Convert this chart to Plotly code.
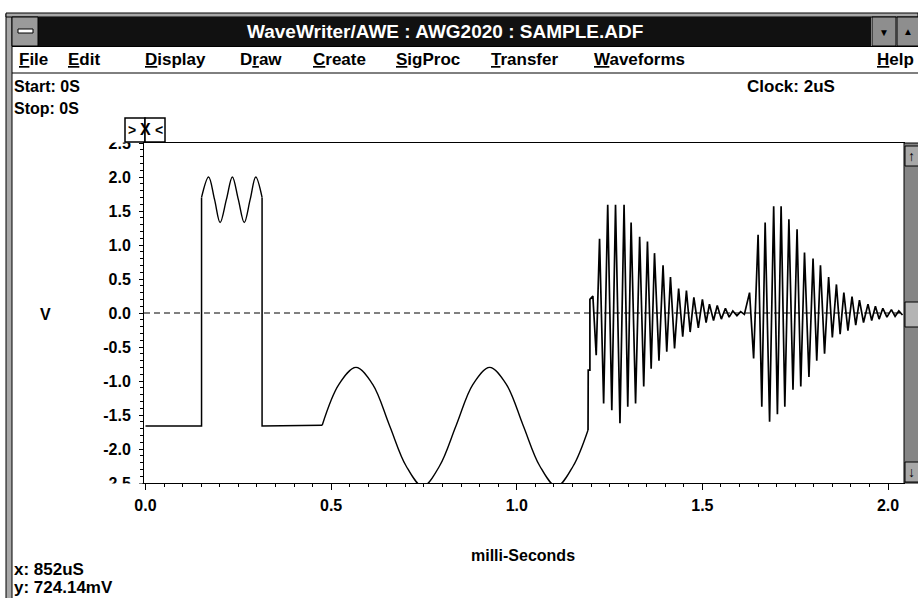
import plotly.graph_objects as go

# ---------------- data ----------------
# flat / step segments (ms, V)
step_t = [0.0, 0.151, 0.151]
step_v = [-1.66, -1.66, 1.70]
# ripple on top of the pulse (ms, V)
ripple_t = [0.151, 0.170, 0.186, 0.201, 0.218, 0.234, 0.250, 0.266, 0.282, 0.297, 0.314]
ripple_v = [1.70, 2.00, 1.67, 1.33, 1.67, 2.00, 1.67, 1.33, 1.67, 2.00, 1.70]
# falling edge and low level
low_t = [0.314, 0.314, 0.476]
low_v = [1.70, -1.66, -1.65]
# slow sine section (ms, V)
sine_t = [0.476, 0.521, 0.567, 0.612, 0.657, 0.702, 0.747, 0.792, 0.837,
          0.882, 0.927, 0.972, 1.017, 1.062, 1.107, 1.152, 1.192]
sine_v = [-1.65, -1.05, -0.80, -1.05, -1.65, -2.25, -2.55, -2.25, -1.65,
          -1.05, -0.80, -1.05, -1.65, -2.25, -2.55, -2.25, -1.72]
# lead-in of the first burst
lead_t = [1.192, 1.1925, 1.197, 1.197]
lead_v = [-1.72, -0.84, -0.84, 0.20]
# burst 1 peaks
b1_max_t = [1.205, 1.223, 1.245, 1.266, 1.289, 1.308, 1.331, 1.352, 1.371, 1.394,
            1.414, 1.436, 1.457, 1.477, 1.500, 1.519, 1.540, 1.562, 1.582, 1.603]
b1_max_v = [0.25, 1.09, 1.59, 1.59, 1.59, 1.33, 1.12, 1.05, 0.88, 0.70,
            0.53, 0.36, 0.33, 0.23, 0.20, 0.13, 0.11, 0.07, 0.03, 0.02]
b1_min_t = [1.214, 1.234, 1.256, 1.278, 1.299, 1.320, 1.342, 1.362, 1.383, 1.404,
            1.425, 1.447, 1.467, 1.489, 1.510, 1.530, 1.551, 1.572, 1.593, 1.613]
b1_min_v = [-0.62, -1.33, -1.43, -1.62, -1.38, -1.33, -1.08, -0.82, -0.70, -0.57,
            -0.52, -0.35, -0.28, -0.22, -0.14, -0.11, -0.09, -0.06, -0.04, -0.02]
# burst 2 peaks
b2_max_t = [1.627, 1.650, 1.669, 1.692, 1.712, 1.733, 1.755, 1.775, 1.798, 1.818,
            1.840, 1.861, 1.881, 1.903, 1.923, 1.946, 1.966, 1.986, 2.009, 2.029]
b2_max_v = [0.30, 1.15, 1.33, 1.57, 1.57, 1.38, 1.23, 0.89, 0.80, 0.70,
            0.53, 0.42, 0.30, 0.24, 0.19, 0.13, 0.10, 0.07, 0.05, 0.03]
b2_min_t = [1.638, 1.660, 1.681, 1.702, 1.722, 1.744, 1.765, 1.787, 1.808, 1.829,
            1.850, 1.871, 1.892, 1.913, 1.934, 1.956, 1.976, 1.997, 2.019, 2.039]
b2_min_v = [-0.67, -1.38, -1.60, -1.49, -1.38, -1.13, -1.08, -0.94, -0.70, -0.60,
            -0.36, -0.31, -0.26, -0.18, -0.14, -0.11, -0.09, -0.06, -0.05, -0.03]

x_ticks = [0.0, 0.5, 1.0, 1.5, 2.0]
x_labels = ["0.0", "0.5", "1.0", "1.5", "2.0"]
y_ticks = [2.5, 2.0, 1.5, 1.0, 0.5, 0.0, -0.5, -1.0, -1.5, -2.0, -2.5]
y_labels = ["2.5", "2.0", "1.5", "1.0", "0.5", "0.0", "-0.5", "-1.0", "-1.5", "-2.0", "-2.5"]

menu_items = ["<u>F</u>ile", "<u>E</u>dit", "<u>D</u>isplay", "D<u>r</u>aw", "<u>C</u>reate",
              "<u>S</u>igProc", "<u>T</u>ransfer", "<u>W</u>aveforms", "<u>H</u>elp"]
menu_x = [17, 66, 143, 238, 311, 394, 489, 592, 875]

# ---------------- build figure ----------------
W, H = 918, 598
ML, MR, MT, MB = 144, 14, 143, 115
PW, PH = W - ML - MR, H - MT - MB


def px(x):
    return (x - ML) / PW


def py(y):
    return (H - MB - y) / PH


def interleave(a, b):
    out = []
    for p, q in zip(a, b):
        out += [p, q]
    return out


burst_t = lead_t + interleave(b1_max_t, b1_min_t) + interleave(b2_max_t, b2_min_t)
burst_v = lead_v + interleave(b1_max_v, b1_min_v) + interleave(b2_max_v, b2_min_v)

line_style = dict(color="black", width=1.5)
fig = go.Figure()
fig.add_trace(go.Scatter(x=step_t, y=step_v, mode="lines", line=line_style, hoverinfo="skip"))
fig.add_trace(go.Scatter(x=ripple_t, y=ripple_v, mode="lines",
                         line=dict(color="black", width=1.4, shape="spline", smoothing=1.0), hoverinfo="skip"))
fig.add_trace(go.Scatter(x=low_t, y=low_v, mode="lines", line=line_style, hoverinfo="skip"))
fig.add_trace(go.Scatter(x=sine_t, y=sine_v, mode="lines",
                         line=dict(color="black", width=1.4, shape="spline", smoothing=1.0), hoverinfo="skip"))
fig.add_trace(go.Scatter(x=burst_t, y=burst_v, mode="lines", line=dict(color="black", width=1.7),
                         hoverinfo="skip"))

FONT = "Liberation Sans"
tickfont = dict(family=FONT, size=16, color="black", weight="bold")

fig.update_layout(
    width=W, height=H,
    margin=dict(l=ML, r=MR, t=MT, b=MB, pad=0),
    paper_bgcolor="white", plot_bgcolor="white",
    showlegend=False,
    xaxis=dict(range=[-0.004, 2.043], showgrid=False, zeroline=False,
               showline=True, linecolor="black", linewidth=1, mirror=True,
               tickmode="array", tickvals=x_ticks, ticktext=x_labels,
               ticks="outside", ticklen=6, tickcolor="black", tickwidth=1,
               tickfont=tickfont, ticklabelstandoff=2,
               minor=dict(dtick=0.05, ticks="outside", ticklen=3, tickcolor="black", tickwidth=1)),
    yaxis=dict(range=[-2.5, 2.5], showgrid=False, zeroline=False,
               showline=True, linecolor="black", linewidth=1, mirror=True,
               tickmode="array", tickvals=y_ticks, ticktext=y_labels,
               ticks="outside", ticklen=4, tickcolor="black", tickwidth=1,
               tickfont=tickfont, ticklabelstandoff=5,
               minor=dict(dtick=0.1, ticks="outside", ticklen=3, tickcolor="black", tickwidth=1)),
)

shapes = []
# dashed zero line
shapes.append(dict(type="line", xref="paper", yref="y", x0=0, x1=1, y0=0, y1=0,
                   line=dict(color="black", width=1, dash="6px,4px"), layer="below"))


def rect(x0, y0, x1, y1, fill, line_color=None, lw=1):
    shapes.append(dict(type="rect", xref="paper", yref="paper",
                       x0=px(x0), x1=px(x1), y0=py(y1), y1=py(y0),
                       fillcolor=fill, layer="above",
                       line=dict(color=line_color or fill, width=lw if line_color else 0)))


def hline(x0, x1, y, color="black", w=1):
    shapes.append(dict(type="line", xref="paper", yref="paper", x0=px(x0), x1=px(x1),
                       y0=py(y), y1=py(y), line=dict(color=color, width=w), layer="above"))


# clip the half labels 2.5 / -2.5
rect(95, 118, 142.5, 142.5, "white")
rect(95, 483.5, 142.5, 491, "white")
# cursor box
rect(125, 118, 145, 142, "white", "black", 1.5)
rect(145, 118, 165, 142, "white", "black", 1.5)
# window frame left
rect(6, 14, 12, 600, "#a8a8a8", "black", 1)
# top frame
rect(6, 13, 918, 17, "#a8a8a8", "black", 1)
# title bar
rect(12, 17, 871, 46, "#111111")
# system menu box
rect(12, 17, 38, 46, "#9a9a9a", "black", 1)
rect(18, 29, 33, 33, "white", "black", 1)
# min / max buttons
rect(872, 17, 896, 46, "#8e8e8e", "black", 1)
rect(897, 17, 920, 46, "#8e8e8e", "black", 1)
# menu bar lines
hline(12, 918, 46.5)
hline(12, 918, 73)
# scrollbar
rect(904, 143, 920, 483, "#858585", "black", 1)
rect(905, 146, 920, 166, "#a8a8a8", "black", 1)
rect(905, 302, 920, 327, "#b4b4b4", "black", 1)
rect(905, 462, 920, 482, "#a8a8a8", "black", 1)

annotations = []


def text(x, y, s, size=16, color="black", bold=True, xanchor="left", family=FONT):
    annotations.append(dict(xref="paper", yref="paper", x=px(x), y=py(y), text=s,
                            showarrow=False, xanchor=xanchor, yanchor="middle",
                            font=dict(family=family, size=size, color=color,
                                      weight="bold" if bold else "normal")))


text(445, 31, "WaveWriter/AWE : AWG2020 : SAMPLE.ADF", size=19, color="white", xanchor="center")
for s, x in zip(menu_items, menu_x):
    text(x, 59, s, size=17)
text(12, 87, "Start: 0S")
text(12, 109, "Stop: 0S")
text(745, 87, "Clock: 2uS", size=17)
text(45, 314, "V", xanchor="center")
text(523, 555, "milli-Seconds", xanchor="center")
text(12, 569, "x: 852uS", size=17)
text(12, 587, "y: 724.14mV", size=17)
# cursor box glyphs
text(131.5, 130, "&gt;", size=14, xanchor="center")
text(145, 130, "X", size=16, xanchor="center")
text(158.5, 130, "&lt;", size=14, xanchor="center")
# button arrows
text(884, 32, "▼", size=10, xanchor="center")
text(908, 31, "▲", size=10, xanchor="center")
text(911.5, 156, "↑", size=14, xanchor="center")
text(911.5, 472, "↓", size=14, xanchor="center")

fig.update_layout(shapes=shapes, annotations=annotations)
fig.write_html("out.html", config={"displayModeBar": False},
               post_script="document.body.style.margin='0';document.body.style.overflow='hidden';")
